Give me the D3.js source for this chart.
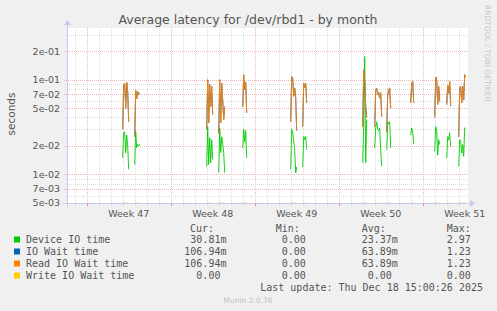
<!DOCTYPE html>
<html><head><meta charset="utf-8">
<script src="https://cdn.jsdelivr.net/npm/d3@7"></script>
<style>
html,body{margin:0;padding:0;background:#F0F0F0;}
svg{display:block;}
text{font-family:"DejaVu Sans",sans-serif;}
.mono{font-family:"DejaVu Sans Mono",monospace;white-space:pre;}
</style></head><body>
<svg id="c" width="497" height="311"></svg>
<script>
// ---- data ----
const title = "Average latency for /dev/rbd1 - by month";
const yLabel = "seconds";
const majorTicks = [0.2, 0.1, 0.07, 0.05, 0.02, 0.01, 0.007, 0.005];
const majorLabels = ["2e-01","1e-01","7e-02","5e-02","2e-02","1e-02","7e-03","5e-03"];
const minorTicks = [0.3, 0.09, 0.08, 0.06, 0.04, 0.03, 0.009, 0.008, 0.006];
const weekStarts = ["2025-11-17","2025-11-24","2025-12-01","2025-12-08","2025-12-15"];
const weekLabels = ["Week 47","Week 48","Week 49","Week 50","Week 51"];
const stepHours = 2;
const clusterStarts = ["2025-11-20T00:00Z","2025-11-21T00:00Z","2025-11-27T00:00Z","2025-11-28T00:00Z",
  "2025-11-30T00:00Z","2025-12-04T00:00Z","2025-12-05T00:00Z","2025-12-10T00:00Z","2025-12-11T00:00Z",
  "2025-12-12T00:00Z","2025-12-14T00:00Z","2025-12-16T00:00Z","2025-12-17T00:00Z","2025-12-18T00:00Z"];
const deviceIO = [
  [0.015, 0.028, 0.028, 0.017, 0.026, 0.020, 0.0113],
  [0.0127, 0.0286, 0.0192, 0.0207, 0.020, 0.021],
  [0.0122, 0.032, 0.0127, 0.0245, 0.0133, 0.0233, 0.0144],
  [0.0105, 0.031, 0.017, 0.025, 0.021, 0.017, 0.0105],
  [0.019, 0.030, 0.022, 0.029, 0.015],
  [0.0113, 0.030, 0.028, 0.0224, 0.018, 0.0104, 0.012],
  [0.0119, 0.025, 0.0233, 0.0253, 0.0183],
  [0.0133, 0.034, 0.176, 0.0133, 0.038],
  [0.019, 0.031, 0.036, 0.030, 0.029, 0.031, 0.018, 0.0122],
  [0.0183, 0.036, 0.034, 0.036, 0.019],
  [0.026, 0.031, 0.028, 0.021],
  [0.0175, 0.032, 0.0286, 0.016, 0.0233, 0.0207],
  [0.015, 0.025, 0.0233, 0.0275, 0.0197],
  [0.0122, 0.0233, 0.0224, 0.0168, 0.0207, 0.0156, 0.031, 0.031]
];
const readWait = [
  [0.030, 0.089, 0.092, 0.050, 0.094, 0.075, 0.036],
  [0.025, 0.077, 0.063, 0.075, 0.070, 0.072],
  [0.030, 0.100, 0.035, 0.089, 0.052, 0.085, 0.043],
  [0.027, 0.100, 0.035, 0.092, 0.061, 0.038, 0.052],
  [0.052, 0.113, 0.078, 0.094, 0.045],
  [0.036, 0.108, 0.104, 0.067, 0.082, 0.064, 0.029],
  [0.032, 0.092, 0.082, 0.092, 0.057],
  [0.032, 0.127, 0.100, 0.052, 0.040],
  [0.032, 0.078, 0.081, 0.070, 0.073, 0.064, 0.073, 0.041],
  [0.028, 0.070, 0.078, 0.082, 0.050],
  [0.057, 0.092, 0.096, 0.057],
  [0.040, 0.107, 0.100, 0.055, 0.085, 0.059],
  [0.055, 0.088, 0.072, 0.096, 0.053],
  [0.025, 0.082, 0.085, 0.057, 0.085, 0.061, 0.113, 0.107]
];
// IO wait equals read IO wait (identical legend stats)
const ioWait = readWait;
// write IO wait is 0 during the active periods
const writeWait = readWait.map(c => c.map(() => 0));
const seriesNames = ["Device IO time","IO Wait time","Read IO Wait time","Write IO Wait time"];
const seriesColors = ["#00CC00","#0066B3","#FF8000","#FFCC00"];
const curVals = ["30.81m","106.94m","106.94m","0.00 "];
const minVals = ["0.00 ","0.00 ","0.00 ","0.00 "];
const avgVals = ["23.37m","63.89m","63.89m","0.00 "];
const maxVals = ["2.97 ","1.23 ","1.23 ","0.00 "];
const lastUpdate = "Last update: Thu Dec 18 15:00:26 2025";
const footer = "Munin 2.0.76";
const timeDomain = ["2025-11-15T08:36Z","2025-12-18T18:36Z"];
const yDomain = [0.005, 0.352];

// ---- drawing ----
const svg = d3.select("#c");
const L = 67, R = 468, T = 28, B = 203;
const x = d3.scaleUtc().domain(timeDomain.map(d => new Date(d))).range([L, R]);
const y = d3.scaleLog().domain(yDomain).range([B, T]).clamp(true);

svg.append("rect").attr("x", L).attr("y", T).attr("width", R - L).attr("height", B - T).attr("fill", "#fff");

const grid = svg.append("g").attr("shape-rendering", "crispEdges");
const minorCol = "#DCDCDC", majorCol = "#F2B8B8";
// vertical day grid
d3.utcDay.range(x.domain()[0], x.domain()[1]).forEach(d => {
  const isWeek = d.getUTCDay() === 1;
  const xx = Math.round(x(d)) + 0.5;
  grid.append("line").attr("x1", xx).attr("x2", xx).attr("y1", T).attr("y2", B)
    .attr("stroke", isWeek ? majorCol : minorCol).attr("stroke-dasharray", "1,1");
  grid.append("line").attr("x1", xx).attr("x2", xx).attr("y1", B).attr("y2", B + (isWeek ? 3 : 2))
    .attr("stroke", isWeek ? "#F08080" : "#C8C8C8");
});
// horizontal grid
minorTicks.forEach(v => {
  const yy = Math.round(y(v)) + 0.5;
  grid.append("line").attr("x1", L - 2).attr("x2", R).attr("y1", yy).attr("y2", yy)
    .attr("stroke", minorCol).attr("stroke-dasharray", "1,1");
});
majorTicks.forEach(v => {
  if (v === yDomain[0]) return;
  const yy = Math.round(y(v)) + 0.5;
  grid.append("line").attr("x1", L - 3).attr("x2", R).attr("y1", yy).attr("y2", yy)
    .attr("stroke", majorCol).attr("stroke-dasharray", "1,1");
});

// y labels
svg.append("g").selectAll("text").data(majorTicks).join("text")
  .attr("x", 60).attr("y", d => y(d)).attr("dy", "0.35em").attr("text-anchor", "end")
  .attr("font-size", 9.5).attr("fill", "#555").text((d, i) => majorLabels[i]);

// x labels
svg.append("g").selectAll("text").data(weekStarts).join("text")
  .attr("x", d => x(d3.utcHour.offset(new Date(d + "T00:00Z"), 84)))
  .attr("y", 217).attr("text-anchor", "middle").attr("font-size", 9.5).attr("fill", "#555")
  .text((d, i) => weekLabels[i]);

// series
function points(clusters) {
  const pts = [];
  clusters.forEach((c, ci) => {
    const t0 = new Date(clusterStarts[ci]);
    c.forEach((v, i) => pts.push({ t: d3.utcHour.offset(t0, i * stepHours), v }));
    pts.push({ t: null, v: null });
  });
  return pts;
}
const line = d3.line().defined(d => d.t !== null)
  .x(d => x(d.t)).y(d => d.v > 0 ? y(d.v) : B);
const plot = svg.append("g");
[deviceIO, ioWait, readWait, writeWait].forEach((s, i) => {
  plot.append("path").datum(points(s)).attr("d", line).attr("fill", "none")
    .attr("stroke", seriesColors[i]).attr("stroke-width", 1).attr("stroke-linejoin", "round")
    .attr("stroke-opacity", i === 3 ? 0.6 : 0.9);
});

// axes
const ax = svg.append("g").attr("shape-rendering", "crispEdges");
ax.append("line").attr("x1", L - 4).attr("x2", R + 2).attr("y1", B + 0.5).attr("y2", B + 0.5).attr("stroke", "#C8C8F0");
ax.append("line").attr("x1", L + 0.5).attr("x2", L + 0.5).attr("y1", B + 4).attr("y2", T - 4).attr("stroke", "#C8C8F0");
svg.append("path").attr("d", `M${R + 2},${B - 3}L${R + 7},${B + 0.5}L${R + 2},${B + 4}Z`).attr("fill", "#C8C8F0");
svg.append("path").attr("d", `M${L - 3},${T - 3}L${L + 0.5},${T - 8}L${L + 4},${T - 3}Z`).attr("fill", "#C8C8F0");

// title and labels
svg.append("text").attr("x", 248).attr("y", 24).attr("text-anchor", "middle")
  .attr("font-size", 12.5).attr("fill", "#555").text(title);
svg.append("text").attr("transform", "translate(15,114) rotate(-90)").attr("text-anchor", "middle")
  .attr("font-size", 10.5).attr("fill", "#555").text(yLabel);
svg.append("text").attr("transform", "translate(485,5) rotate(90)").attr("text-anchor", "start")
  .attr("font-size", 7.5).attr("fill", "#C8C8C8").text("RRDTOOL / TOBI OETIKER");

// legend
const lg = svg.append("g").attr("class", "mono").attr("font-size", 10).attr("fill", "#555");
const hdrY = 231.5;
[["Cur:", 190], ["Min:", 275.7], ["Avg:", 361.7], ["Max:", 446.7]].forEach(([t, xx]) =>
  lg.append("text").attr("class", "mono").attr("x", xx).attr("y", hdrY).text(t));
seriesNames.forEach((n, i) => {
  const yy = 243 + i * 12;
  svg.append("rect").attr("x", 14).attr("y", yy - 6.5).attr("width", 6).attr("height", 6).attr("fill", seriesColors[i]);
  lg.append("text").attr("class", "mono").attr("x", 26).attr("y", yy).text(n);
  [[curVals, 184.3], [minVals, 269.7], [avgVals, 355.7], [maxVals, 434.7]].forEach(([arr, xx]) =>
    lg.append("text").attr("class", "mono").attr("x", xx).attr("y", yy).attr("xml:space", "preserve")
      .text(arr[i].padStart(7, " ")));
});
lg.append("text").attr("class", "mono").attr("x", 483).attr("y", 291).attr("text-anchor", "end").text(lastUpdate);
svg.append("text").attr("x", 248).attr("y", 303).attr("text-anchor", "middle")
  .attr("font-size", 7.5).attr("fill", "#C0C0C0").text(footer);
</script>
</body></html>
